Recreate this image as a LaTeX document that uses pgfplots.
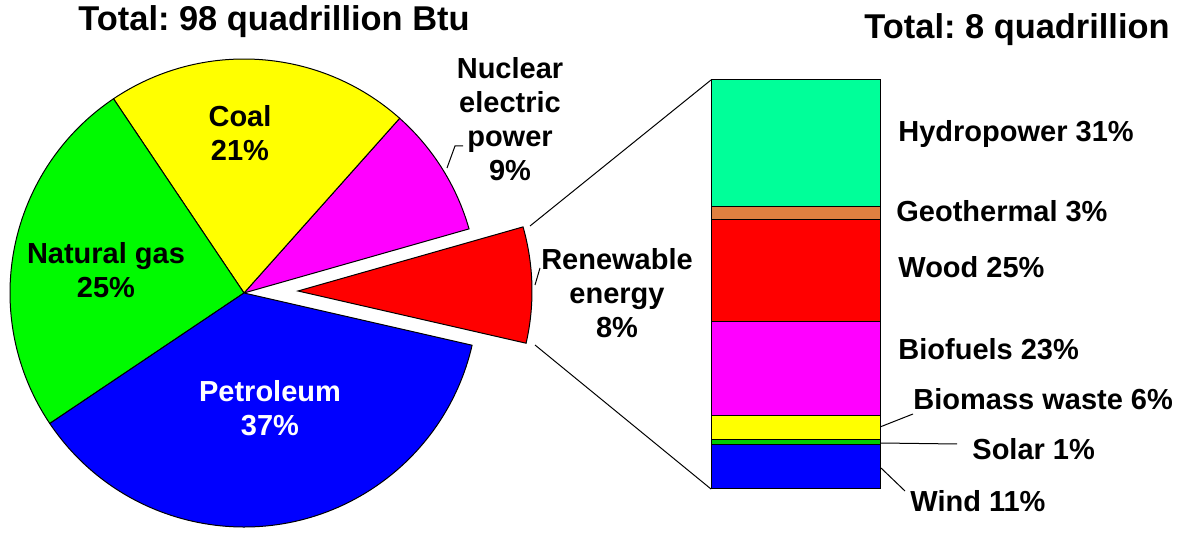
\documentclass[border=0pt]{standalone}
\usepackage{pgfplots}
\pgfplotsset{compat=1.18}
\usepackage{fontspec}
\setmainfont{Liberation Sans}
\frenchspacing
\definecolor{hydro}{RGB}{0,255,153}
\definecolor{geo}{RGB}{224,128,64}
\definecolor{solarg}{RGB}{0,204,0}
\definecolor{gasg}{RGB}{0,250,0}
\definecolor{petro}{RGB}{0,0,255}
\definecolor{nuc}{RGB}{255,0,255}
\definecolor{coal}{RGB}{255,255,0}
\definecolor{ren}{RGB}{255,0,0}
\newcommand{\lab}{\fontsize{14.5}{17}\selectfont\bfseries}
\newcommand{\ttl}{\fontsize{17.2}{20}\selectfont\bfseries}
% #1 cx, #2 cy (pixel units), #3 start angle, #4 percentage, #5 colour
\newcommand{\slice}[5]{%
  \filldraw[fill=#5,draw=black,line width=0.5pt] (axis cs:#1,#2) -- ++({#3}:117pt)
    arc[start angle={#3}, end angle={#3+3.6*#4}, radius=117pt] -- cycle;}
\begin{document}
\begin{tikzpicture}
\begin{axis}[x=0.5pt,y=0.5pt,xmin=0,xmax=1178,ymin=0,ymax=529,hide axis,clip=false,anchor=south west,at={(0pt,0pt)}]
\path (axis cs:0,0) rectangle (axis cs:1178,529);
% pie: Nuclear 9, Coal 21, Natural gas 25, Petroleum 37, Renewable 8 (exploded)
\slice{244}{236}{15.9}{9}{nuc}
\slice{244}{236}{15.9+3.6*9}{21}{coal}
\slice{244}{236}{15.9+3.6*30}{25}{gasg}
\slice{244}{236}{15.9+3.6*55}{37}{petro}
\slice{298}{238}{15.9+3.6*92}{8}{ren}
% titles
\node[font=\ttl,inner sep=0pt] at (axis cs:274,507) {Total: 98 quadrillion Btu};
\node[font=\ttl,inner sep=0pt,anchor=east] at (axis cs:1170,499) {Total: 8 quadrillion};
% pie labels
\node[font=\lab,align=center,inner sep=0pt] at (axis cs:240,396) {Coal\\21\%};
\node[font=\lab,align=center,inner sep=0pt] at (axis cs:106,259) {Natural gas\\25\%};
\node[font=\lab,align=center,inner sep=0pt,text=white] at (axis cs:270,121) {Petroleum\\37\%};
\node[font=\lab,align=center,inner sep=0pt] at (axis cs:510,410) {Nuclear\\electric\\power\\9\%};
\node[font=\lab,align=center,inner sep=0pt] at (axis cs:617,236) {Renewable\\energy\\8\%};
% leaders
\draw[line width=0.5pt] (axis cs:447,361) -- (axis cs:455,383) -- (axis cs:463,383);
\draw[line width=0.5pt] (axis cs:535,244) -- (axis cs:540,261);
\draw[line width=0.5pt] (axis cs:530,303) -- (axis cs:711,449);
\draw[line width=0.5pt] (axis cs:535,184) -- (axis cs:711,40);
\draw[line width=0.5pt] (axis cs:880,102) -- (axis cs:913,115);
\draw[line width=0.5pt] (axis cs:880,86) -- (axis cs:957,85);
\draw[line width=0.5pt] (axis cs:881,61) -- (axis cs:905,38);
% bar labels
\node[font=\lab,inner sep=0pt,anchor=base west] at (axis cs:898,387) {Hydropower 31\%};
\node[font=\lab,inner sep=0pt,anchor=base west] at (axis cs:896,307) {Geothermal 3\%};
\node[font=\lab,inner sep=0pt,anchor=base west] at (axis cs:898,251) {Wood 25\%};
\node[font=\lab,inner sep=0pt,anchor=base west] at (axis cs:898,169) {Biofuels 23\%};
\node[font=\lab,inner sep=0pt,anchor=base west] at (axis cs:913,119) {Biomass waste 6\%};
\node[font=\lab,inner sep=0pt,anchor=base west] at (axis cs:972,69) {Solar 1\%};
\node[font=\lab,inner sep=0pt,anchor=base west] at (axis cs:910,17) {Wind 11\%};
\end{axis}
\begin{axis}[at={(355.5pt,20pt)},anchor=south west,scale only axis,width=84.5pt,height=204.5pt,
  xmin=0,xmax=1,ymin=0,ymax=100,hide axis,ybar stacked,bar width=84.5pt,clip=false]
\addplot[fill=petro,draw=black,line width=0.5pt] coordinates {(0.5,11)};
\addplot[fill=solarg,draw=black,line width=0.5pt] coordinates {(0.5,1)};
\addplot[fill=coal,draw=black,line width=0.5pt] coordinates {(0.5,6)};
\addplot[fill=nuc,draw=black,line width=0.5pt] coordinates {(0.5,23)};
\addplot[fill=ren,draw=black,line width=0.5pt] coordinates {(0.5,25)};
\addplot[fill=geo,draw=black,line width=0.5pt] coordinates {(0.5,3)};
\addplot[fill=hydro,draw=black,line width=0.5pt] coordinates {(0.5,31)};
\end{axis}
\end{tikzpicture}
\end{document}
